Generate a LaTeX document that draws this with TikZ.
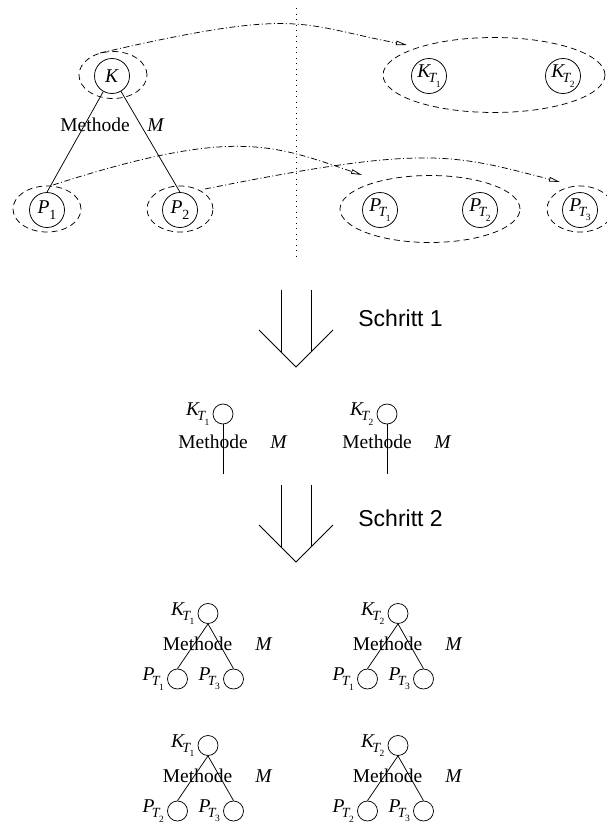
\documentclass[tikz,border=0pt]{standalone}
\usepackage{fontspec}
\setmainfont{Liberation Serif}
\setsansfont{Liberation Sans}
\usetikzlibrary{shapes.geometric,arrows.meta}
% italic symbol with an upright index, e.g. P_1
\newcommand\Idx[2]{\textit{#1}\raisebox{-0.3em}{\fontsize{14}{14}\selectfont #2}}
% italic symbol indexed by T_n, e.g. K_{T_1}
\newcommand\IdxT[2]{\textit{#1}\kern-0.14em\raisebox{-0.26em}{\fontsize{14}{14}\selectfont\textit{T}\kern-0.1em\raisebox{-0.3em}{\fontsize{9.5}{10}\selectfont #2}}}

\begin{document}
\begin{tikzpicture}[x=1pt,y=-1pt,line width=0.75pt,
  txt/.style={inner sep=0pt,font=\fontsize{19.5}{23}\selectfont},
  stepfont/.style={inner sep=0pt,font=\fontsize{23}{27}\selectfont\sffamily},
  bigc/.style={circle,draw,minimum size=35pt,inner sep=0pt,font=\fontsize{19.5}{23}\selectfont},
  smallc/.style={circle,draw,minimum size=20pt,inner sep=0pt},
  grp/.style={ellipse,draw,dash pattern=on 6pt off 4pt,inner sep=0pt},
  link/.style={dash pattern=on 6pt off 2.5pt on 1pt off 2.5pt,
    -{Triangle[open,length=11pt,width=4.5pt]}},
  sep/.style={dash pattern=on 1pt off 4.5pt}]
\useasboundingbox (0,0) rectangle (606,827);

% ---------- original tree ----------
\node[grp,minimum width=68pt,minimum height=47pt] (gK) at (113,75) {};
\node[bigc] (K) at (112,76) {\textit{K}};
\node[grp,minimum width=68pt,minimum height=46pt] (gP1) at (47,209) {};
\node[bigc] (P1) at (47,210) {\Idx{P}{1}};
\node[grp,minimum width=66pt,minimum height=46pt] (gP2) at (180,209) {};
\node[bigc] (P2) at (180,210) {\Idx{P}{2}};
\draw (K) -- (P1.north);
\draw (K) -- (P2.north);
\node[txt,anchor=base west] (meth0) at (60,131) {Methode};
\node[txt,anchor=base west] (m0) at (147,131) {\textit{M}};

% separator
\coordinate (s1) at (296,8);
\coordinate (s2) at (296,260);
\draw[sep] (s1) -- (s2);

% ---------- split parts ----------
\node[grp,minimum width=222pt,minimum height=75pt] (gKT) at (494,75) {};
\node[bigc] (KT1) at (429,76) {\makebox[0pt]{\IdxT{K}{1}}};
\node[bigc] (KT2) at (563,76) {\makebox[0pt]{\IdxT{K}{2}}};
\node[grp,minimum width=180pt,minimum height=67pt] (gPT) at (430,209) {};
\node[bigc] (PT1) at (380,210) {\makebox[0pt]{\IdxT{P}{1}}};
\node[bigc] (PT2) at (480,210) {\makebox[0pt]{\IdxT{P}{2}}};
\node[grp,minimum width=66pt,minimum height=46pt] (gPT3) at (580,209) {};
\node[bigc] (PT3) at (580,210) {\makebox[0pt]{\IdxT{P}{3}}};

% mapping arrows
\coordinate (a1s) at (100,53);  \coordinate (a1e) at (407,45);
\coordinate (a2s) at (53,185);  \coordinate (a2e) at (362,175);
\coordinate (a3s) at (205,189); \coordinate (a3e) at (560,182);
\draw[link] (a1s) .. controls (300,7) and (297,24) .. (a1e);
\draw[link] (a2s) .. controls (233,127) and (272,144.4) .. (a2e);
\draw[link] (a3s) .. controls (425,145) and (450,153.4) .. (a3e);

% ---------- step 1 ----------
\draw (281,290) -- (281,352);
\draw (311,290) -- (311,352);
\draw (259,330) -- (296,367) -- (333,330);
\node[stepfont,anchor=west] (st1) at (358,318) {Schritt 1};

\foreach \tx/\k in {223/1,387/2}{
  \node[smallc] (m\k) at (\tx,414) {};
  \node[txt,anchor=east] (ml\k) at ([xshift=-3pt]m\k.west) {\IdxT{K}{\k}};
  \coordinate (me\k) at (\tx,474);
  \draw (m\k) -- (me\k);
  \node[txt,anchor=base west] (mt\k) at (\tx-45,448) {Methode};
  \node[txt,anchor=base west] (mm\k) at (\tx+47,448) {\textit{M}};
}

% ---------- step 2 ----------
\draw (281,485) -- (281,547);
\draw (311,485) -- (311,547);
\draw (259,525) -- (296,562) -- (333,525);
\node[stepfont,anchor=west] (st2) at (358,518) {Schritt 2};

\foreach \tx/\ty/\k/\p in {208/613.5/1/1,398/613.5/2/1,208/745.5/1/2,398/745.5/2/2}{
  \node[smallc] (k\k\p) at (\tx,\ty) {};
  \node[txt,anchor=east] (kl\k\p) at ([xshift=-3pt]k\k\p.west) {\IdxT{K}{\k}};
  \node[smallc] (l\k\p) at (\tx-30.5,\ty+65.5) {};
  \node[smallc] (r\k\p) at (\tx+25.5,\ty+65.5) {};
  \node[txt,anchor=east] (ll\k\p) at ([xshift=-3pt]l\k\p.west) {\IdxT{P}{\p}};
  \node[txt,anchor=east] (rl\k\p) at ([xshift=-3pt]r\k\p.west) {\IdxT{P}{3}};
  \draw (k\k\p.south) -- (l\k\p.north);
  \draw (k\k\p.south) -- (r\k\p.north);
  \node[txt,anchor=base west] (bt\k\p) at (\tx-45.5,\ty+36.5) {Methode};
  \node[txt,anchor=base west] (bm\k\p) at (\tx+47,\ty+36.5) {\textit{M}};
}
\end{tikzpicture}
\end{document}
